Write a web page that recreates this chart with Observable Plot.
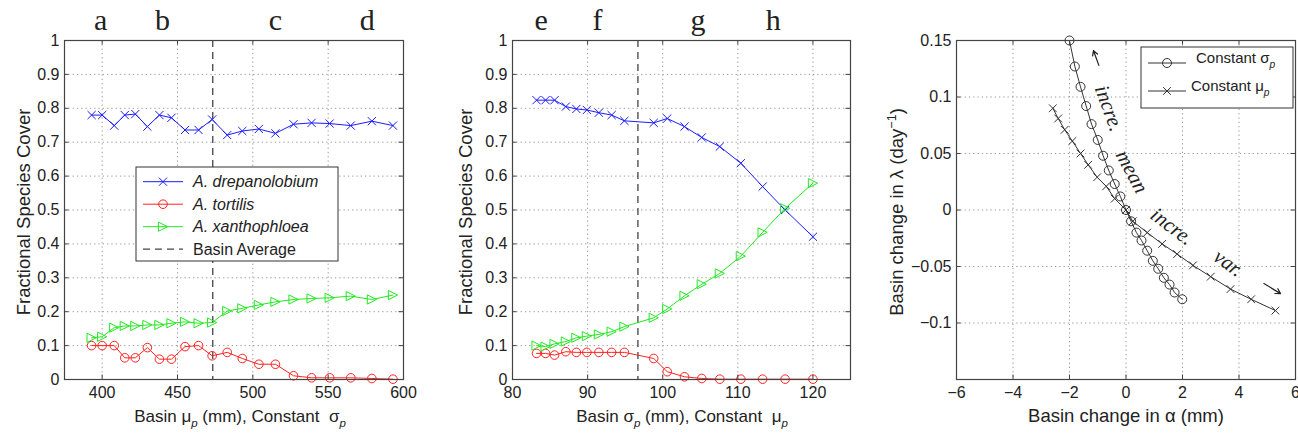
<!DOCTYPE html>
<html><head><meta charset="utf-8">
<script src="https://cdn.jsdelivr.net/npm/d3@7"></script>
<script src="https://cdn.jsdelivr.net/npm/@observablehq/plot@0.6"></script>
<style>
body{margin:0;background:#fff;}
#wrap{position:relative;width:1298px;height:436px;overflow:hidden;background:#fff;font-family:"Liberation Sans",Arial,sans-serif;}
#wrap svg{position:absolute;top:0;}
</style></head><body><div id="wrap"></div>
<script>
// ---------- DATA ----------
// Panel 1: basin mean rainfall mu_p (mm), constant sigma_p
const p1Mu = [393,400,408,415,422,430,438,446,455,464,473,483,493,504,515,527,539,551,565,579,593];
const p1Drepanolobium = [0.780,0.780,0.749,0.780,0.783,0.746,0.780,0.772,0.736,0.736,0.767,0.721,0.733,0.739,0.726,0.753,0.757,0.755,0.749,0.762,0.749];
const p1Tortilis = [0.100,0.100,0.100,0.064,0.064,0.094,0.060,0.060,0.097,0.100,0.070,0.080,0.062,0.045,0.045,0.011,0.005,0.005,0.005,0.003,0.001];
const p1Xanthophloea = [0.123,0.126,0.153,0.158,0.158,0.161,0.161,0.166,0.170,0.166,0.168,0.202,0.210,0.220,0.229,0.236,0.239,0.241,0.246,0.236,0.249];
const p1BasinAverage = 473.4;
const p1Letters = ["a","b","c","d"];
const p1LetterMu = [399,440,515,576];
const p1XTicks = [400,450,500,550,600];

// Panel 2: basin rainfall std sigma_p (mm), constant mu_p
const p2Sigma = [83.2,84.4,85.6,87.1,88.5,89.9,91.5,93.2,94.9,98.8,100.6,102.9,105.2,107.6,110.4,113.3,116.3,120.0];
const p2Drepanolobium = [0.824,0.824,0.824,0.805,0.798,0.795,0.787,0.780,0.763,0.757,0.770,0.746,0.714,0.687,0.638,0.569,0.500,0.421];
const p2Tortilis = [0.077,0.077,0.072,0.082,0.080,0.080,0.080,0.080,0.080,0.062,0.023,0.008,0.003,0.001,0.001,0.001,0.001,0.001];
const p2Xanthophloea = [0.100,0.097,0.105,0.112,0.123,0.128,0.133,0.141,0.156,0.182,0.208,0.247,0.281,0.313,0.364,0.434,0.505,0.579];
const p2BasinAverage = 96.7;
const p2Letters = ["e","f","g","h"];
const p2LetterSigma = [83.8,91.3,104.7,114.7];
const p2XTicks = [80,90,100,110,120];

const coverTicks = [0,0.1,0.2,0.3,0.4,0.5,0.6,0.7,0.8,0.9,1];
const coverGrid = [0.1,0.2,0.3,0.4,0.5,0.6,0.7,0.8,0.9];

// Panel 3: basin change in alpha (mm) vs basin change in lambda (1/day)
const constSigmaAlpha = [-2.0,-1.81,-1.61,-1.41,-1.22,-1.0,-0.81,-0.61,-0.40,-0.20,0,0.18,0.37,0.55,0.75,0.95,1.14,1.34,1.54,1.72,1.99];
const constSigmaLambda = [0.150,0.127,0.109,0.092,0.076,0.062,0.048,0.035,0.023,0.012,0,-0.010,-0.020,-0.027,-0.036,-0.045,-0.052,-0.060,-0.066,-0.073,-0.079];
const constMuAlpha = [-2.59,-2.40,-2.17,-1.90,-1.61,-1.34,-1.02,-0.70,-0.40,0,0.24,0.75,1.28,1.81,2.37,3.0,3.70,4.43,5.29];
const constMuLambda = [0.090,0.081,0.071,0.061,0.050,0.040,0.029,0.021,0.010,0,-0.010,-0.020,-0.030,-0.039,-0.049,-0.059,-0.070,-0.079,-0.089];
const p3XTicks = [-6,-4,-2,0,2,4,6];
const p3XGrid = [-4,-2,0,2,4];
const p3YTicks = [-0.1,-0.05,0,0.05,0.1,0.15];
const p3YGrid = [-0.1,-0.05,0,0.05,0.1];
const noteText = ["incre.","mean","incre.","var."];
const noteAlpha = [-0.60,0.21,1.63,3.63];
const noteLambda = [0.090,0.034,-0.0146,-0.047];
const noteAngle = [70,62,37,36];
const arrowFromAlpha = [-0.96,4.88], arrowFromLambda = [0.128,-0.065];
const arrowToAlpha = [-1.15,5.47], arrowToLambda = [0.141,-0.074];

// ---------- STYLE ----------
const BLUE="#1c1cff", RED="#ff2222", GREEN="#22e822", INK="#222", AX="#444", DARK="#333";
const SANS="'Liberation Sans', Arial, sans-serif", SERIF="'Liberation Serif', 'Times New Roman', serif";
const wrap = document.getElementById("wrap");
const fmt = d => (d < 0 ? "\u2212" : "") + String(+Math.abs(d).toFixed(3));
const triRight = {draw(ctx, size){ const r=Math.sqrt(size/Math.PI); ctx.moveTo(r,0); ctx.lineTo(-r,-r); ctx.lineTo(-r,r); ctx.closePath(); }};

function makePanel(cfg){
  const [xa,xb]=cfg.xDomain, [ya,yb]=cfg.yDomain;
  const tkX=(xb-xa)/339*4.5, tkY=(yb-ya)/339*4.5;
  const grid={stroke:"#9a9a9a", strokeDasharray:"1.3,3", strokeWidth:1};
  const svg = Plot.plot({
    width: cfg.width, height: 436, marginTop: 40, marginBottom: 57, marginLeft: cfg.ml, marginRight: cfg.mr,
    style:{background:"transparent", fontFamily:SANS, color:INK, overflow:"visible"},
    x:{domain:cfg.xDomain}, y:{domain:cfg.yDomain},
    marks:[
      Plot.ruleX(cfg.xGrid, grid),
      Plot.ruleY(cfg.yGrid, grid),
      ...cfg.marks,
      Plot.ruleX(cfg.xTicks, {y1: ()=>ya, y2: ()=>ya+tkY, stroke:AX}),
      Plot.ruleX(cfg.xTicks, {y1: ()=>yb, y2: ()=>yb-tkY, stroke:AX}),
      Plot.ruleY(cfg.yTicks, {x1: ()=>xa, x2: ()=>xa+tkX, stroke:AX}),
      Plot.ruleY(cfg.yTicks, {x1: ()=>xb, x2: ()=>xb-tkX, stroke:AX}),
      Plot.frame({stroke:AX, strokeWidth:1.2}),
      Plot.axisX(cfg.xTicks, {tickSize:0, tickPadding:7, fontSize:16, label:null, tickFormat: fmt, fill:INK}),
      Plot.axisY(cfg.yTicks, {tickSize:0, tickPadding:5, fontSize:16, label:null, tickFormat: fmt, fill:INK})
    ]
  });
  svg.style.left = cfg.left + "px";
  wrap.appendChild(svg);
  return svg;
}

function richText(svg, {x, y, rotate=0, size, anchor="middle", family=SANS, parts}){
  const t = d3.select(svg).append("text")
    .attr("transform", `translate(${x},${y}) rotate(${rotate})`)
    .attr("text-anchor", anchor).style("text-anchor", anchor)
    .attr("font-size", size).attr("font-family", family).attr("fill", INK);
  let shift = 0;
  for (const p of parts){
    const s = t.append("tspan").text(p.t);
    const target = p.sub ? size*0.3 : p.sup ? -size*0.4 : 0;
    if (target !== shift){ s.attr("dy", target - shift); shift = target; }
    if (p.sub || p.sup) s.attr("font-size", size*0.68);
    if (p.it) s.attr("font-style", "italic");
  }
  return t;
}

function speciesMarks(xs, drep, tort, xant, avg){
  const rows = xs.map((x,i)=>({x, drep:drep[i], tort:tort[i], xant:xant[i]}));
  return [
    Plot.ruleX([avg], {stroke:AX, strokeDasharray:"7,5", strokeWidth:1.3}),
    Plot.line(rows, {x:"x", y:"drep", stroke:BLUE, strokeWidth:1}),
    Plot.dot(rows, {x:"x", y:"drep", symbol:"times", r:3.8, stroke:BLUE, strokeWidth:1}),
    Plot.line(rows, {x:"x", y:"tort", stroke:RED, strokeWidth:1}),
    Plot.dot(rows, {x:"x", y:"tort", symbol:"circle", r:4.3, stroke:RED, fill:"none", strokeWidth:1}),
    Plot.line(rows, {x:"x", y:"xant", stroke:GREEN, strokeWidth:1}),
    Plot.dot(rows, {x:"x", y:"xant", symbol:triRight, r:4.6, stroke:GREEN, fill:"none", strokeWidth:1})
  ];
}

// ---------- PANEL 1 ----------
const svg1 = makePanel({
  left:0, width:410, ml:64, mr:7, xDomain:[375,600], yDomain:[0,1],
  xTicks:p1XTicks, yTicks:coverTicks, xGrid:[400,450,500,550], yGrid:coverGrid,
  marks:[
    ...speciesMarks(p1Mu, p1Drepanolobium, p1Tortilis, p1Xanthophloea, p1BasinAverage),
    Plot.text(p1Letters, {x:(d,i)=>p1LetterMu[i], y:()=>1, dy:-11, text:d=>d, lineAnchor:"bottom", fontFamily:SERIF, fontSize:30, fill:INK})
  ]
});
richText(svg1, {x:30, y:212, rotate:-90, size:18.5, parts:[{t:"Fractional Species Cover"}]});
richText(svg1, {x:240, y:422, size:17, parts:[{t:"Basin \u03bc"},{t:"p",sub:true,it:true},{t:" (mm), Constant \u00a0\u03c3"},{t:"p",sub:true,it:true}]});

// legend panel 1
{
  const g = d3.select(svg1).append("g");
  g.append("rect").attr("x",136).attr("y",167).attr("width",202).attr("height",94).attr("fill","#fff").attr("stroke",DARK).attr("stroke-width",1);
  const items = [
    {label:"A. drepanolobium", it:true, color:BLUE, sym:d3.symbolTimes, r:3.8},
    {label:"A. tortilis", it:true, color:RED, sym:d3.symbolCircle, r:4.3},
    {label:"A. xanthophloea", it:true, color:GREEN, sym:triRight, r:4.6},
    {label:"Basin Average", it:false, color:AX, dash:"7,5"}
  ];
  const ys=[181.7,204.2,226.7,249.2];
  items.forEach((it,i)=>{
    const y=ys[i];
    g.append("line").attr("x1",143).attr("x2",183).attr("y1",y).attr("y2",y).attr("stroke",it.color).attr("stroke-width",it.dash?1.3:1).attr("stroke-dasharray",it.dash||null);
    if (it.sym) g.append("path").attr("d", d3.symbol(it.sym, Math.PI*it.r*it.r)()).attr("transform",`translate(163,${y})`).attr("fill","none").attr("stroke",it.color);
    g.append("text").attr("x",193).attr("y",y).attr("dy","0.35em").attr("text-anchor","start").style("text-anchor","start")
      .attr("font-size",16).attr("font-family",SANS).attr("font-style",it.it?"italic":"normal").attr("fill",INK).text(it.label);
  });
}

// ---------- PANEL 2 ----------
const svg2 = makePanel({
  left:420, width:437, ml:92, mr:7, xDomain:[80,125], yDomain:[0,1],
  xTicks:p2XTicks, yTicks:coverTicks, xGrid:[90,100,110,120], yGrid:coverGrid,
  marks:[
    ...speciesMarks(p2Sigma, p2Drepanolobium, p2Tortilis, p2Xanthophloea, p2BasinAverage),
    Plot.text(p2Letters, {x:(d,i)=>p2LetterSigma[i], y:()=>1, dy:-11, text:d=>d, lineAnchor:"bottom", fontFamily:SERIF, fontSize:30, fill:INK})
  ]
});
richText(svg2, {x:52, y:212, rotate:-90, size:18.5, parts:[{t:"Fractional Species Cover"}]});
richText(svg2, {x:262, y:422, size:17, parts:[{t:"Basin \u03c3"},{t:"p",sub:true,it:true},{t:" (mm), Constant \u00a0\u03bc"},{t:"p",sub:true,it:true}]});

// ---------- PANEL 3 ----------
const idx4 = [0,1,2,3], idx2=[0,1];
const sigRows = constSigmaAlpha.map((a,i)=>({a, l:constSigmaLambda[i]}));
const muRows = constMuAlpha.map((a,i)=>({a, l:constMuLambda[i]}));
const svg3 = makePanel({
  left:860, width:438, ml:96, mr:3, xDomain:[-6,6], yDomain:[-0.15,0.15],
  xTicks:p3XTicks, yTicks:p3YTicks, xGrid:p3XGrid, yGrid:p3YGrid,
  marks:[
    Plot.line(sigRows, {x:"a", y:"l", stroke:DARK, strokeWidth:1}),
    Plot.dot(sigRows, {x:"a", y:"l", r:4.5, stroke:DARK, fill:"none", strokeWidth:1}),
    Plot.line(muRows, {x:"a", y:"l", stroke:DARK, strokeWidth:1}),
    Plot.dot(muRows, {x:"a", y:"l", symbol:"times", r:3.6, stroke:DARK, strokeWidth:1}),
    Plot.text(idx4, {x:i=>noteAlpha[i], y:i=>noteLambda[i], text:i=>noteText[i], rotate:i=>noteAngle[i], fontFamily:SERIF, fontStyle:"italic", fontSize:21, fill:INK}),
    Plot.arrow(idx2, {x1:i=>arrowFromAlpha[i], y1:i=>arrowFromLambda[i], x2:i=>arrowToAlpha[i], y2:i=>arrowToLambda[i], stroke:INK, strokeWidth:1.2, headLength:7})
  ]
});
richText(svg3, {x:43, y:212, rotate:-90, size:18.5, parts:[{t:"Basin change in \u03bb (day"},{t:"\u22121",sup:true},{t:")"}]});
richText(svg3, {x:266, y:422, size:18.5, parts:[{t:"Basin change in \u03b1 (mm)"}]});
// legend panel 3
{
  const g = d3.select(svg3).append("g");
  g.append("rect").attr("x",281).attr("y",47).attr("width",152).attr("height",61).attr("fill","#fff").attr("stroke",DARK).attr("stroke-width",1);
  const items=[{y:63, sym:d3.symbolCircle, r:4.5, g:"\u03c3", tx:336},{y:91, sym:d3.symbolTimes, r:3.6, g:"\u03bc", tx:331}];
  items.forEach(it=>{
    g.append("line").attr("x1",288).attr("x2",326).attr("y1",it.y).attr("y2",it.y).attr("stroke",DARK);
    g.append("path").attr("d", d3.symbol(it.sym, Math.PI*it.r*it.r)()).attr("transform",`translate(307,${it.y})`).attr("fill","none").attr("stroke",DARK);
    richText(svg3, {x:it.tx, y:it.y, anchor:"start", size:15, parts:[{t:"Constant "+it.g},{t:"p",sub:true,it:true}]});
  });
}
</script></body></html>
